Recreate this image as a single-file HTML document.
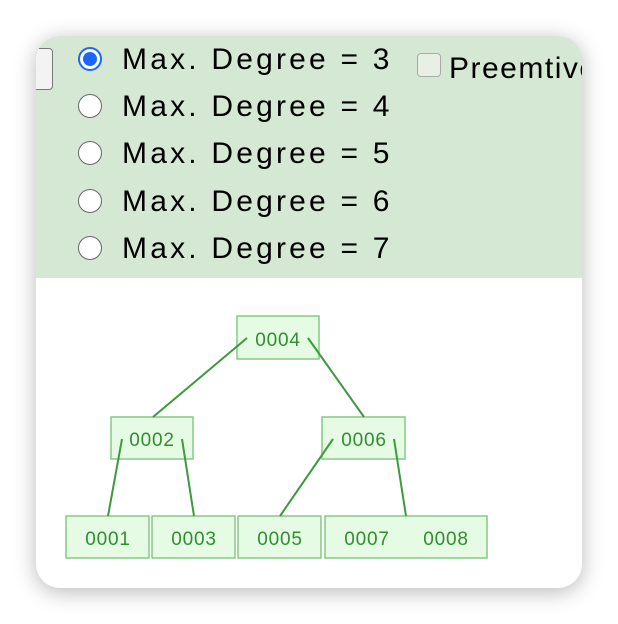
<!DOCTYPE html>
<html><head><meta charset="utf-8"><style>
body{margin:0;width:618px;height:624px;background:#fff;overflow:hidden;font-family:"Liberation Sans",sans-serif}
#card{position:absolute;left:36px;top:36px;width:546px;height:552px;border-radius:24px;overflow:hidden;background:#fff;box-shadow:0 4px 22px rgba(0,0,0,0.28)}
#panel{position:absolute;left:0;top:0;width:546px;height:242px;background:#d5e8d4}
.radio{position:absolute;left:42px;width:24px;height:24px;border-radius:50%;border:1.5px solid #666;background:#fff;box-sizing:border-box}
.radio.on{border:2px solid #1a66ff;background:#fff}
.radio.on::after{content:"";position:absolute;left:3px;top:3px;width:14px;height:14px;border-radius:50%;background:#1a66ff}
.lbl{position:absolute;left:86px;font-size:30px;line-height:34px;color:#000;white-space:nowrap;letter-spacing:3.2px}
</style></head><body>
<div id="card">
<div id="panel">
<div style="position:absolute;left:-10px;top:12px;width:27px;height:42px;border:1.5px solid #777;border-radius:4px;background:#f3f3f3;box-sizing:border-box"></div>
<div class="radio on" style="top:11px"></div>
<div class="lbl" style="top:7px">Max. Degree = 3</div>
<div class="radio" style="top:58px"></div>
<div class="lbl" style="top:54px">Max. Degree = 4</div>
<div class="radio" style="top:105px"></div>
<div class="lbl" style="top:101px">Max. Degree = 5</div>
<div class="radio" style="top:153px"></div>
<div class="lbl" style="top:149px">Max. Degree = 6</div>
<div class="radio" style="top:200px"></div>
<div class="lbl" style="top:196px">Max. Degree = 7</div>
<div style="position:absolute;left:381px;top:17px;width:24px;height:24px;border:1.5px solid #aaa;border-radius:4px;background:#e8f0e6;box-sizing:border-box"></div>
<div class="lbl" style="left:413px;top:16px;letter-spacing:1.5px">Preemtive Split / Merge</div>
</div>
<svg style="position:absolute;left:-36px;top:-36px" width="618" height="624" font-family="Liberation Sans, sans-serif">
<g fill="#e6fbe4" stroke="#86c986" stroke-width="1.5">
<rect x="237" y="316" width="82" height="43"/>
<rect x="111" y="417" width="82" height="42"/>
<rect x="322" y="417" width="83" height="42"/>
<rect x="66" y="516" width="83" height="42"/>
<rect x="152" y="516" width="83" height="42"/>
<rect x="238" y="516" width="83" height="42"/>
<rect x="325" y="516" width="162" height="42"/>
</g>
<g stroke="#3c9a3c" stroke-width="2">
<line x1="247" y1="338" x2="153" y2="417"/><line x1="308" y1="338" x2="364" y2="417"/>
<line x1="122" y1="439" x2="108" y2="516"/><line x1="182" y1="439" x2="194" y2="516"/>
<line x1="333" y1="439" x2="280" y2="516"/><line x1="394" y1="439" x2="406" y2="516"/>
</g>
<g fill="#2f8f2f" text-anchor="middle" style="font-size:19px;letter-spacing:0.8px">
<text x="278" y="346">0004</text>
<text x="152" y="446">0002</text>
<text x="364" y="446">0006</text>
<text x="108" y="545">0001</text>
<text x="194" y="545">0003</text>
<text x="280" y="545">0005</text>
<text x="367" y="545">0007</text>
<text x="446" y="545">0008</text>
</g>
</svg>
</div>
</body></html>
